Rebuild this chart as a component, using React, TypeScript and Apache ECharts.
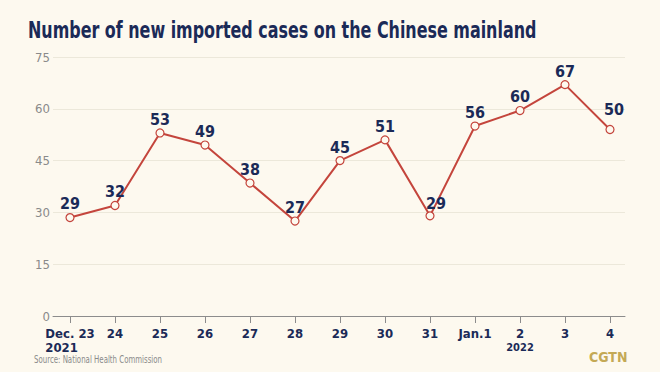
import React, { useEffect, useRef } from "react";
import * as echarts from "echarts";

const categories = ["Dec. 23", "24", "25", "26", "27", "28", "29", "30", "31", "Jan.1", "2", "3", "4"];
const yearNotes = ["2021", "", "", "", "", "", "", "", "", "", "2022", "", ""];
// values as drawn by the markers in the reference
const plottedValues = [28.5, 32, 53, 49.5, 38.5, 27.5, 45, 51, 29, 55, 59.5, 67, 54];
// numbers printed above the markers
const printedLabels = [29, 32, 53, 49, 38, 27, 45, 51, 29, 56, 60, 67, 50];
const yTicks = [0, 15, 30, 45, 60, 75];

const NAVY = "#1b2a57";
const RED = "#c4453c";
const BG = "#fdf9ef";
const FONT = "'DejaVu Sans Condensed', 'DejaVu Sans', sans-serif";

export default function App() {
  const ref = useRef<HTMLDivElement>(null);
  useEffect(() => {
    const chart = echarts.init(ref.current!, null, { renderer: "svg" });
    const top = 57;
    const bottom = 372 - 316;
    chart.setOption({
      animation: false,
      backgroundColor: BG,
      grid: [
        { left: 53, right: 35, top, bottom },
        { left: 70, right: 50, top, bottom },
      ],
      xAxis: [
        {
          gridIndex: 0,
          type: "value",
          min: 0,
          max: 1,
          axisLine: { show: true, lineStyle: { color: "#8c8c8c", width: 1 } },
          axisTick: { show: false },
          axisLabel: { show: false },
          splitLine: { show: false },
        },
        {
          gridIndex: 1,
          type: "category",
          data: categories,
          boundaryGap: false,
          axisLine: { show: false },
          axisTick: { show: true, length: 7, inside: false, lineStyle: { color: "#8c8c8c" } },
          axisLabel: {
            interval: 0,
            margin: 10,
            formatter: (v: string, i: number) =>
              yearNotes[i] ? (i === 0 ? `{a|${v}}\n{b|${yearNotes[i]}}` : `{a|${v}}\n{c|${yearNotes[i]}}`) : `{a|${v}}`,
            rich: {
              a: { color: NAVY, fontFamily: FONT, fontWeight: "bold", fontSize: 13, lineHeight: 14 },
              b: { color: NAVY, fontFamily: FONT, fontWeight: "bold", fontSize: 13, lineHeight: 14, align: "left" },
              c: { color: NAVY, fontFamily: FONT, fontWeight: "bold", fontSize: 11, lineHeight: 14 },
            },
          },
        },
      ],
      yAxis: [
        {
          gridIndex: 0,
          type: "value",
          min: 0,
          max: 75,
          interval: 15,
          axisLine: { show: false },
          axisTick: { show: false },
          axisLabel: {
            margin: 3,
            color: "#8a8a8a",
            fontFamily: FONT,
            fontSize: 13,
            formatter: (v: number) => (yTicks.includes(v) ? String(v) : ""),
          },
          splitLine: { show: true, lineStyle: { color: "#ece8da", width: 1 } },
        },
        {
          gridIndex: 1,
          type: "value",
          min: 0,
          max: 75,
          interval: 15,
          show: false,
        },
      ],
      series: [
        {
          type: "line",
          xAxisIndex: 1,
          yAxisIndex: 1,
          data: plottedValues,
          symbol: "circle",
          symbolSize: 8,
          lineStyle: { color: RED, width: 2 },
          itemStyle: { color: BG, borderColor: RED, borderWidth: 1.2 },
          label: {
            show: true,
            position: "top",
            distance: 1,
            color: NAVY,
            fontFamily: FONT,
            fontWeight: "bold",
            fontSize: 16,
            lineHeight: 16,
            formatter: (p: any) => String(printedLabels[p.dataIndex]),
          },
          labelLayout: (p: any) => (p.dataIndex === 8 ? { dx: 6, dy: 1 } : p.dataIndex === 12 ? { dx: 4, dy: -6 } : {}),
        },
      ],
      graphic: [
        {
          type: "text",
          x: 28,
          y: 19,
          scaleX: 0.77,
          style: {
            text: "Number of new imported cases on the Chinese mainland",
            fill: NAVY,
            font: `bold 23px ${FONT}`,
          },
        },
        {
          type: "text",
          x: 34,
          y: 355,
          scaleX: 0.78,
          style: { text: "Source: National Health Commission", fill: "#8a8a8a", font: `10px ${FONT}` },
        },
        {
          type: "text",
          x: 589,
          y: 350,
          style: { text: "CGTN", fill: "#c4a955", font: `bold 14px ${FONT}` },
        },
      ],
    });
    return () => chart.dispose();
  }, []);
  return <div ref={ref} style={{ width: 660, height: 372, position: "fixed", left: 0, top: 0 }} />;
}
